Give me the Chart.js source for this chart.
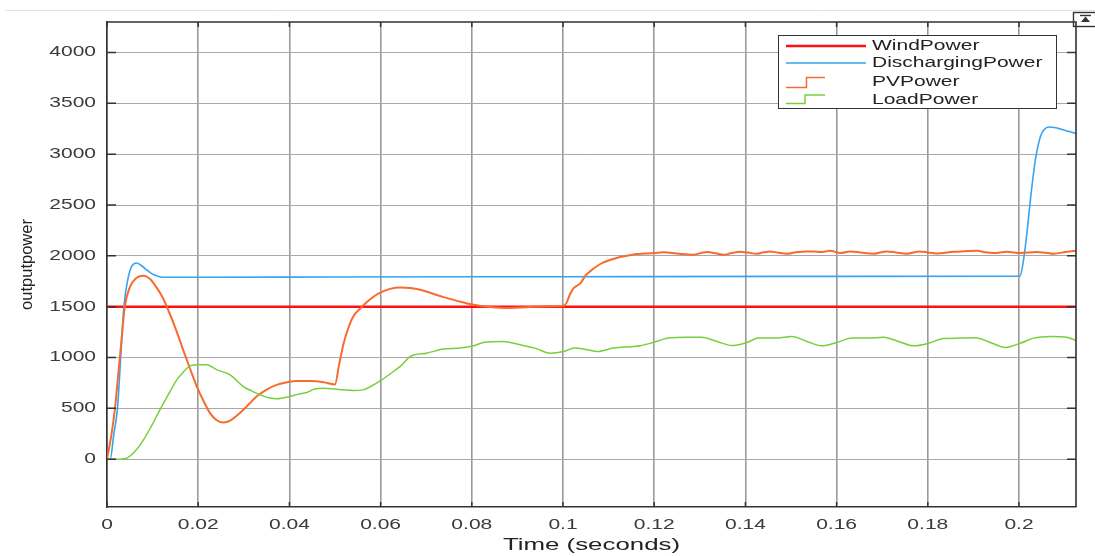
<!DOCTYPE html>
<html>
<head>
<meta charset="utf-8">
<script src="https://cdn.jsdelivr.net/npm/chart.js@4.4.1/dist/chart.umd.min.js"></script>
<style>
  html, body { margin: 0; padding: 0; background: #fff; }
  #wrap { width: 1095px; height: 556px; }
</style>
</head>
<body>
<div id="wrap"><canvas id="c" width="1095" height="556"></canvas></div>
<script>
// Series names (legend order)
const seriesNames = ['WindPower', 'DischargingPower', 'PVPower', 'LoadPower'];

// Wind power: constant output
const windTime  = [0, 0.2125];
const windPower = [1500, 1500];

// Battery discharging power
const dischargeTime  = [0, 0.0007, 0.0015, 0.0023, 0.003, 0.0037, 0.0047, 0.0054, 0.0065, 0.0075, 0.0087, 0.0098, 0.0109, 0.0123, 0.02, 0.05, 0.1, 0.15, 0.2, 0.2002, 0.201, 0.2018, 0.2025, 0.2036, 0.2047, 0.2056, 0.2065, 0.2078, 0.2091, 0.2108, 0.2125];
const dischargePower = [0, 0, 250, 500, 1000, 1500, 1797, 1896, 1930, 1905, 1863, 1825, 1804, 1790, 1790, 1792, 1795, 1798, 1800, 1800, 1962, 2250, 2552, 2946, 3175, 3245, 3268, 3262, 3248, 3225, 3205];

// PV power
const pvTime  = [0, 0.001, 0.00175, 0.0025, 0.0032, 0.0039, 0.005, 0.0065, 0.008, 0.0095, 0.011, 0.0122, 0.0131, 0.015, 0.0167, 0.0183, 0.0197, 0.0212, 0.0226, 0.024, 0.0255, 0.0272, 0.0291, 0.031, 0.0328, 0.035, 0.0372, 0.0395, 0.0416, 0.0445, 0.0475, 0.05, 0.0509, 0.0519, 0.053, 0.054, 0.0555, 0.057, 0.0585, 0.06, 0.0621, 0.0643, 0.0665, 0.0687, 0.0712, 0.0738, 0.077, 0.0804, 0.084, 0.0877, 0.0905, 0.0935, 0.097, 0.1001, 0.1008, 0.1015, 0.1023, 0.1038, 0.105, 0.106, 0.1075, 0.1089, 0.1105, 0.1125, 0.1145, 0.1162, 0.118, 0.12, 0.122, 0.124, 0.126, 0.1286, 0.1305, 0.1316, 0.1335, 0.1352, 0.137, 0.1389, 0.1405, 0.1425, 0.144, 0.1454, 0.147, 0.1491, 0.151, 0.153, 0.155, 0.1564, 0.1586, 0.1608, 0.163, 0.1652, 0.1681, 0.171, 0.173, 0.1754, 0.1783, 0.18, 0.182, 0.1857, 0.188, 0.1908, 0.1925, 0.1944, 0.1974, 0.2003, 0.2039, 0.206, 0.2076, 0.2105, 0.2125];
const pvPower = [0, 250, 500, 850, 1180, 1500, 1690, 1785, 1805, 1770, 1680, 1590, 1502, 1290, 1076, 880, 715, 570, 453, 385, 360, 385, 453, 535, 616, 685, 731, 757, 768, 768, 758, 736, 930, 1140, 1300, 1404, 1480, 1545, 1600, 1640, 1675, 1688, 1683, 1666, 1632, 1594, 1555, 1519, 1497, 1486, 1492, 1500, 1505, 1509, 1540, 1620, 1680, 1730, 1810, 1850, 1900, 1935, 1962, 1988, 2005, 2018, 2022, 2027, 2035, 2028, 2018, 2012, 2030, 2037, 2025, 2010, 2028, 2040, 2032, 2020, 2035, 2043, 2032, 2020, 2036, 2042, 2044, 2037, 2050, 2028, 2044, 2034, 2021, 2044, 2034, 2021, 2044, 2033, 2024, 2040, 2045, 2050, 2036, 2028, 2040, 2028, 2037, 2030, 2021, 2040, 2050];

// Load power
const loadTime  = [0, 0.002, 0.0043, 0.006, 0.008, 0.0098, 0.0116, 0.0135, 0.0153, 0.0168, 0.0182, 0.02, 0.0219, 0.0241, 0.027, 0.0299, 0.0318, 0.0336, 0.0355, 0.0372, 0.0401, 0.042, 0.0438, 0.0455, 0.0475, 0.05, 0.0518, 0.054, 0.0562, 0.058, 0.0599, 0.0628, 0.0645, 0.0665, 0.0701, 0.0738, 0.0774, 0.0804, 0.0826, 0.0869, 0.0906, 0.094, 0.0972, 0.1001, 0.1025, 0.1045, 0.1074, 0.1111, 0.1169, 0.1198, 0.1231, 0.1272, 0.1304, 0.1338, 0.137, 0.1403, 0.1429, 0.1469, 0.1502, 0.1535, 0.1568, 0.16, 0.1634, 0.1667, 0.1703, 0.1736, 0.1769, 0.1802, 0.1835, 0.1871, 0.1904, 0.1937, 0.197, 0.2003, 0.2032, 0.2069, 0.2105, 0.2125];
const loadPower = [0, 0, 10, 70, 190, 330, 485, 640, 780, 860, 918, 930, 928, 879, 830, 715, 670, 633, 605, 594, 616, 640, 656, 690, 699, 690, 682, 676, 682, 720, 770, 862, 920, 1010, 1043, 1083, 1093, 1115, 1148, 1158, 1125, 1090, 1043, 1059, 1095, 1085, 1059, 1093, 1115, 1148, 1191, 1200, 1200, 1158, 1118, 1148, 1191, 1191, 1207, 1158, 1115, 1148, 1191, 1191, 1200, 1158, 1115, 1141, 1187, 1191, 1194, 1148, 1099, 1141, 1191, 1207, 1200, 1167];

// Axis settings
const xTickValues = [0, 0.02, 0.04, 0.06, 0.08, 0.1, 0.12, 0.14, 0.16, 0.18, 0.2];
const yTickValues = [0, 500, 1000, 1500, 2000, 2500, 3000, 3500, 4000];
const xRange = [0, 0.2125];
const yRange = [-470, 4300];

const colors = ['#ff1010', '#35a4f2', '#f76b30', '#78cf3c'];
const widths = [2.6, 1.6, 2.0, 1.5];

const toPoints = (t, v) => t.map((x, i) => ({ x: x, y: v[i] }));
const seriesData = [
  toPoints(windTime, windPower),
  toPoints(dischargeTime, dischargePower),
  toPoints(pvTime, pvPower),
  toPoints(loadTime, loadPower)
];

const FONT = "'Liberation Sans', Arial, Helvetica, sans-serif";
const TEXT_STRETCH = 1.5;   // wide lettering of the figure export

// Runs fn with every fillText drawn horizontally widened around its anchor point
const baseFillText = CanvasRenderingContext2D.prototype.fillText;
function withStretch(ctx, sx, sy, fn) {
  ctx.fillText = function (text, x, y) {
    this.save();
    this.translate(x, y);
    this.scale(sx, sy);
    baseFillText.call(this, text, 0, 0);
    this.restore();
  };
  try { fn(); } finally { delete ctx.fillText; }
}

// Box, inward tick marks, legend and the window strip on top
const framePlugin = {
  id: 'frame',
  beforeDraw(chart) {
    const ctx = chart.ctx;
    const wrap = (scale, method, sx) => {
      const key = '_wide_' + method;
      if (scale[key]) return;
      const orig = scale[method];
      scale[method] = function () {
        const args = arguments;
        withStretch(ctx, sx, 1, () => orig.apply(this, args));
      };
      scale[key] = true;
    };
    wrap(chart.scales.x, 'drawLabels', TEXT_STRETCH);
    wrap(chart.scales.y, 'drawLabels', TEXT_STRETCH);
    wrap(chart.scales.x, 'drawTitle', 1.52);
  },
  afterDraw(chart) {
    const ctx = chart.ctx;
    const a = chart.chartArea;
    const xs = chart.scales.x, ys = chart.scales.y;
    ctx.save();

    // top strip line and toolbar button
    ctx.strokeStyle = '#e2e2e2';
    ctx.lineWidth = 1;
    ctx.beginPath();
    ctx.moveTo(5, 10.5); ctx.lineTo(1095, 10.5);
    ctx.stroke();
    ctx.fillStyle = '#ffffff';
    ctx.fillRect(1073, 12, 24, 14);
    ctx.strokeStyle = '#333';
    ctx.lineWidth = 1.4;
    ctx.strokeRect(1073.5, 12.5, 24, 14);
    ctx.beginPath();
    ctx.moveTo(1080, 15.5); ctx.lineTo(1091, 15.5);
    ctx.stroke();
    ctx.fillStyle = '#333';
    ctx.beginPath();
    ctx.moveTo(1085.5, 16.5); ctx.lineTo(1081, 22); ctx.lineTo(1090, 22);
    ctx.closePath();
    ctx.fill();

    // top and right edges of the box
    ctx.strokeStyle = '#333';
    ctx.lineWidth = 1.6;
    ctx.beginPath();
    ctx.moveTo(a.left, a.top); ctx.lineTo(a.right, a.top); ctx.lineTo(a.right, a.bottom);
    ctx.stroke();

    // inward tick marks
    ctx.lineWidth = 1.5;
    ctx.beginPath();
    xs.ticks.forEach(t => {
      const px = xs.getPixelForValue(t.value);
      ctx.moveTo(px, a.top); ctx.lineTo(px, a.top + 5);
      ctx.moveTo(px, a.bottom); ctx.lineTo(px, a.bottom - 5);
    });
    ys.ticks.forEach(t => {
      const py = ys.getPixelForValue(t.value);
      ctx.moveTo(a.left, py); ctx.lineTo(a.left + 9, py);
      ctx.moveTo(a.right, py); ctx.lineTo(a.right - 9, py);
    });
    ctx.stroke();

    // legend
    const lx = 778, ly = 35, lw = 278, lh = 73;
    ctx.fillStyle = '#fff';
    ctx.fillRect(lx, ly, lw, lh);
    ctx.strokeStyle = '#333';
    ctx.lineWidth = 1;
    ctx.strokeRect(lx + 0.5, ly + 0.5, lw, lh);

    const rowY = [46, 63, 81.5, 99.5];
    [0, 1].forEach(i => {
      ctx.strokeStyle = colors[i];
      ctx.lineWidth = widths[i];
      ctx.beginPath();
      ctx.moveTo(786, rowY[i]); ctx.lineTo(866, rowY[i]);
      ctx.stroke();
    });
    [[2, 87.5, 77.5, 806.5], [3, 103.5, 95, 805]].forEach(([i, yLow, yHigh, xStep]) => {
      ctx.strokeStyle = colors[i];
      ctx.lineWidth = 1.5;
      ctx.beginPath();
      ctx.moveTo(786, yLow); ctx.lineTo(xStep, yLow); ctx.lineTo(xStep, yHigh); ctx.lineTo(825, yHigh);
      ctx.stroke();
    });

    ctx.font = '14px ' + FONT;
    ctx.fillStyle = '#222';
    ctx.textBaseline = 'middle';
    ctx.textAlign = 'left';
    withStretch(ctx, TEXT_STRETCH, 1, () => {
      seriesNames.forEach((n, i) => ctx.fillText(n, 872, rowY[i] + 0.5));
    });
    ctx.restore();
  }
};

new Chart(document.getElementById('c'), {
  type: 'line',
  data: {
    datasets: seriesNames.map((name, i) => ({
      label: name,
      data: seriesData[i],
      borderColor: colors[i],
      backgroundColor: colors[i],
      borderWidth: widths[i],
      pointRadius: 0,
      fill: false,
      cubicInterpolationMode: 'monotone',
      order: 4 - i
    }))
  },
  options: {
    responsive: false,
    devicePixelRatio: 1,
    animation: false,
    events: [],
    layout: { padding: { top: 22, right: 19, bottom: 0, left: 0 } },
    plugins: { legend: { display: false }, tooltip: { enabled: false }, title: { display: false } },
    scales: {
      x: {
        type: 'linear',
        min: xRange[0],
        max: xRange[1],
        afterBuildTicks: s => { s.ticks = xTickValues.map(v => ({ value: v })); },
        afterFit: s => { s.height = 49; },
        ticks: {
          callback: v => String(Number(v.toFixed(2))),
          font: { family: FONT, size: 14 },
          color: '#3a3a3a',
          padding: 10,
          maxRotation: 0,
          autoSkip: false
        },
        grid: { color: '#9a9a9a', lineWidth: 1.6, drawTicks: false },
        border: { display: true, color: '#333', width: 1.6 },
        title: {
          display: true,
          text: 'Time (seconds)',
          font: { family: FONT, size: 17 },
          color: '#222',
          padding: { top: 2, bottom: 0 }
        }
      },
      y: {
        min: yRange[0],
        max: yRange[1],
        afterBuildTicks: s => { s.ticks = yTickValues.map(v => ({ value: v })); },
        afterFit: s => { s.width = 107; },
        ticks: {
          callback: v => String(v),
          font: { family: FONT, size: 14 },
          color: '#3a3a3a',
          padding: 11
        },
        grid: { color: '#a8a8a8', lineWidth: 1, drawTicks: false },
        border: { display: true, color: '#333', width: 1.6 },
        title: {
          display: true,
          text: 'outputpower',
          font: { family: FONT, size: 16.5 },
          color: '#222',
          padding: { top: 18, bottom: 0 }
        }
      }
    }
  },
  plugins: [framePlugin]
});
</script>
</body>
</html>
